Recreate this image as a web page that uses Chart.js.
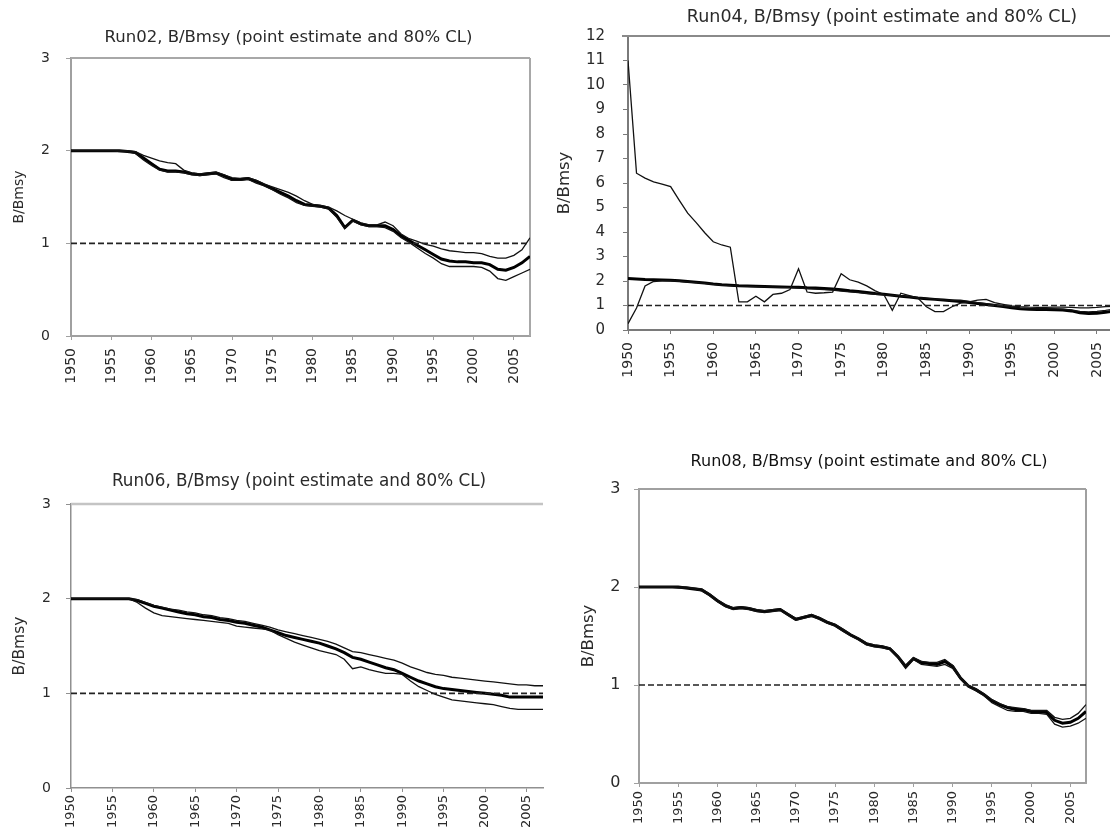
<!DOCTYPE html>
<html>
<head>
<meta charset="utf-8">
<title>B/Bmsy point estimates and 80% confidence limits</title>
<script src="https://cdn.jsdelivr.net/npm/chart.js@4.4.1/dist/chart.umd.min.js"></script>
<style>
  html, body { margin: 0; padding: 0; background: #fff; overflow: hidden; }
  #page { position: relative; width: 1110px; height: 836px; overflow: hidden; background: #fff; }
  #page canvas { position: absolute; }
</style>
</head>
<body>
<div id="page">
  <canvas id="run02"></canvas>
  <canvas id="run04"></canvas>
  <canvas id="run06"></canvas>
  <canvas id="run08"></canvas>
</div>
<script>
// ---- data -------------------------------------------------------------
const years = [
  1950, 1951, 1952, 1953, 1954, 1955, 1956, 1957, 1958, 1959,
  1960, 1961, 1962, 1963, 1964, 1965, 1966, 1967, 1968, 1969,
  1970, 1971, 1972, 1973, 1974, 1975, 1976, 1977, 1978, 1979,
  1980, 1981, 1982, 1983, 1984, 1985, 1986, 1987, 1988, 1989,
  1990, 1991, 1992, 1993, 1994, 1995, 1996, 1997, 1998, 1999,
  2000, 2001, 2002, 2003, 2004, 2005, 2006, 2007
];
const xTickYears = [1950, 1955, 1960, 1965, 1970, 1975, 1980, 1985, 1990, 1995, 2000, 2005];
const yTicksUnit = [0, 1, 2, 3];
const yTicksWide = [0, 1, 2, 3, 4, 5, 6, 7, 8, 9, 10, 11, 12];
const refLevel = 1;   // B = Bmsy

// Run02
const run02Mid = [
  2.00, 2.00, 2.00, 2.00, 2.00, 2.00, 2.00, 1.99, 1.98, 1.92,
  1.86, 1.80, 1.78, 1.78, 1.77, 1.75, 1.74, 1.75, 1.76, 1.73,
  1.69, 1.69, 1.70, 1.67, 1.63, 1.59, 1.55, 1.51, 1.46, 1.42,
  1.41, 1.40, 1.38, 1.30, 1.17, 1.25, 1.21, 1.19, 1.19, 1.19,
  1.15, 1.08, 1.03, 0.98, 0.93, 0.88, 0.83, 0.81, 0.80, 0.80,
  0.79, 0.79, 0.77, 0.72, 0.71, 0.74, 0.79, 0.86
];
const run02Upper = [
  2.00, 2.00, 2.00, 2.00, 2.00, 2.00, 2.00, 2.00, 1.99, 1.95,
  1.92, 1.89, 1.87, 1.86, 1.79, 1.76, 1.75, 1.76, 1.77, 1.74,
  1.71, 1.70, 1.71, 1.68, 1.64, 1.61, 1.58, 1.55, 1.51, 1.46,
  1.42, 1.41, 1.39, 1.35, 1.30, 1.26, 1.22, 1.20, 1.20, 1.23,
  1.19, 1.10, 1.05, 1.02, 0.99, 0.97, 0.94, 0.92, 0.91, 0.90,
  0.90, 0.89, 0.86, 0.84, 0.84, 0.87, 0.93, 1.06
];
const run02Lower = [
  2.00, 2.00, 2.00, 2.00, 2.00, 2.00, 1.99, 1.99, 1.97, 1.90,
  1.84, 1.79, 1.77, 1.77, 1.76, 1.74, 1.73, 1.74, 1.75, 1.71,
  1.68, 1.68, 1.69, 1.65, 1.62, 1.58, 1.53, 1.49, 1.44, 1.41,
  1.40, 1.39, 1.37, 1.28, 1.16, 1.24, 1.20, 1.18, 1.18, 1.17,
  1.13, 1.06, 1.01, 0.95, 0.89, 0.84, 0.78, 0.75, 0.75, 0.75,
  0.75, 0.74, 0.70, 0.62, 0.60, 0.64, 0.68, 0.72
];

// Run04
const run04Mid = [
  2.10, 2.08, 2.06, 2.05, 2.04, 2.03, 2.01, 1.98, 1.95, 1.92,
  1.88, 1.85, 1.83, 1.81, 1.80, 1.79, 1.78, 1.77, 1.76, 1.75,
  1.74, 1.72, 1.71, 1.69, 1.67, 1.64, 1.60, 1.57, 1.53, 1.49,
  1.46, 1.42, 1.38, 1.35, 1.31, 1.28, 1.25, 1.22, 1.19, 1.16,
  1.12, 1.08, 1.04, 1.00, 0.96, 0.91, 0.87, 0.85, 0.84, 0.84,
  0.83, 0.82, 0.78, 0.70, 0.67, 0.68, 0.72, 0.78
];
const run04Upper = [
  11.0, 6.40, 6.20, 6.05, 5.95, 5.85, 5.30, 4.77, 4.38, 3.97,
  3.60, 3.47, 3.38, 1.15, 1.15, 1.38, 1.15, 1.45, 1.50, 1.65,
  2.50, 1.55, 1.50, 1.52, 1.55, 2.30, 2.05, 1.95, 1.80, 1.60,
  1.45, 0.80, 1.50, 1.40, 1.30, 0.95, 0.75, 0.75, 0.95, 1.10,
  1.15, 1.22, 1.25, 1.12, 1.05, 0.98, 0.95, 0.93, 0.92, 0.92,
  0.93, 0.93, 0.92, 0.90, 0.90, 0.92, 0.95, 0.97
];
const run04Lower = [
  0.26, 0.90, 1.80, 1.98, 2.01, 2.01, 1.99, 1.96, 1.93, 1.90,
  1.86, 1.83, 1.81, 1.79, 1.78, 1.77, 1.76, 1.75, 1.74, 1.73,
  1.71, 1.69, 1.67, 1.65, 1.63, 1.59, 1.56, 1.53, 1.49, 1.46,
  1.43, 1.41, 1.39, 1.36, 1.32, 1.29, 1.26, 1.23, 1.21, 1.22,
  1.17, 1.12, 1.08, 1.03, 0.98, 0.93, 0.89, 0.87, 0.86, 0.86,
  0.86, 0.85, 0.82, 0.76, 0.74, 0.76, 0.80, 0.85
];

// Run06
const run06Mid = [
  2.00, 2.00, 2.00, 2.00, 2.00, 2.00, 2.00, 2.00, 1.98, 1.95,
  1.92, 1.90, 1.88, 1.86, 1.84, 1.83, 1.81, 1.80, 1.78, 1.77,
  1.75, 1.74, 1.72, 1.70, 1.67, 1.64, 1.61, 1.59, 1.57, 1.55,
  1.53, 1.50, 1.47, 1.43, 1.38, 1.36, 1.33, 1.30, 1.27, 1.25,
  1.21, 1.17, 1.13, 1.10, 1.07, 1.05, 1.04, 1.03, 1.02, 1.01,
  1.00, 0.99, 0.98, 0.96, 0.96, 0.96, 0.96, 0.96
];
const run06Upper = [
  2.00, 2.00, 2.00, 2.00, 2.00, 2.00, 2.00, 2.00, 1.99, 1.96,
  1.93, 1.91, 1.89, 1.88, 1.86, 1.85, 1.83, 1.82, 1.80, 1.79,
  1.77, 1.76, 1.74, 1.72, 1.70, 1.67, 1.65, 1.63, 1.61, 1.59,
  1.57, 1.55, 1.52, 1.48, 1.44, 1.43, 1.41, 1.39, 1.37, 1.35,
  1.32, 1.28, 1.25, 1.22, 1.20, 1.19, 1.17, 1.16, 1.15, 1.14,
  1.13, 1.12, 1.11, 1.10, 1.09, 1.09, 1.08, 1.08
];
const run06Lower = [
  2.00, 2.00, 2.00, 2.00, 2.00, 2.00, 2.00, 2.00, 1.96, 1.90,
  1.85, 1.82, 1.81, 1.80, 1.79, 1.78, 1.77, 1.76, 1.75, 1.74,
  1.71, 1.70, 1.69, 1.68, 1.67, 1.62, 1.58, 1.54, 1.51, 1.48,
  1.45, 1.43, 1.41, 1.36, 1.26, 1.28, 1.25, 1.23, 1.21, 1.21,
  1.20, 1.13, 1.07, 1.03, 0.99, 0.96, 0.93, 0.92, 0.91, 0.90,
  0.89, 0.88, 0.86, 0.84, 0.83, 0.83, 0.83, 0.83
];

// Run08
const run08Mid = [
  2.00, 2.00, 2.00, 2.00, 2.00, 2.00, 1.99, 1.98, 1.97, 1.92,
  1.86, 1.81, 1.78, 1.79, 1.78, 1.76, 1.75, 1.76, 1.77, 1.72,
  1.67, 1.69, 1.71, 1.68, 1.64, 1.61, 1.56, 1.51, 1.47, 1.42,
  1.40, 1.39, 1.37, 1.29, 1.19, 1.27, 1.23, 1.22, 1.21, 1.24,
  1.19, 1.07, 0.99, 0.95, 0.90, 0.84, 0.80, 0.77, 0.75, 0.75,
  0.73, 0.73, 0.72, 0.64, 0.61, 0.62, 0.66, 0.73
];
const run08Upper = [
  2.00, 2.00, 2.00, 2.00, 2.00, 2.00, 2.00, 1.99, 1.98, 1.93,
  1.87, 1.82, 1.79, 1.80, 1.79, 1.77, 1.76, 1.77, 1.78, 1.73,
  1.68, 1.70, 1.72, 1.69, 1.65, 1.62, 1.57, 1.52, 1.48, 1.43,
  1.41, 1.40, 1.38, 1.30, 1.20, 1.28, 1.24, 1.23, 1.23, 1.26,
  1.20, 1.08, 1.00, 0.96, 0.91, 0.85, 0.81, 0.78, 0.77, 0.76,
  0.74, 0.74, 0.74, 0.67, 0.65, 0.66, 0.71, 0.80
];
const run08Lower = [
  2.00, 2.00, 2.00, 2.00, 2.00, 1.99, 1.99, 1.98, 1.96, 1.91,
  1.85, 1.80, 1.77, 1.78, 1.77, 1.75, 1.74, 1.75, 1.76, 1.71,
  1.66, 1.68, 1.70, 1.67, 1.63, 1.60, 1.55, 1.50, 1.46, 1.41,
  1.39, 1.38, 1.36, 1.28, 1.17, 1.26, 1.21, 1.20, 1.19, 1.21,
  1.17, 1.06, 0.98, 0.94, 0.89, 0.82, 0.78, 0.74, 0.73, 0.73,
  0.71, 0.71, 0.70, 0.60, 0.57, 0.58, 0.61, 0.66
];

// ---- drawing ----------------------------------------------------------
const FONT = '"DejaVu Sans", "Liberation Sans", sans-serif';
Chart.defaults.font.family = FONT;
Chart.defaults.color = '#2a2a2a';

// Panel heading drawn above the plot area
const panelTitle = {
  id: 'panelTitle',
  afterDraw(chart, args, opts) {
    const { ctx, chartArea } = chart;
    ctx.save();
    ctx.font = `${opts.size}px ${FONT}`;
    ctx.fillStyle = opts.color || '#2a2a2a';
    ctx.textAlign = 'center';
    ctx.textBaseline = 'middle';
    ctx.fillText(opts.text, (chartArea.left + chartArea.right) / 2 + opts.dx, chartArea.top + opts.dy);
    ctx.restore();
  }
};

// Top / right edges of the plot area
const plotFrame = {
  id: 'plotFrame',
  beforeDatasetsDraw(chart, args, opts) {
    const { ctx, chartArea } = chart;
    ctx.save();
    ctx.strokeStyle = opts.color;
    ctx.lineWidth = opts.width;
    ctx.beginPath();
    if (opts.top) {
      ctx.moveTo(chartArea.left - (opts.topOverhang || 0), chartArea.top);
      ctx.lineTo(chartArea.right, chartArea.top);
    }
    if (opts.right) {
      ctx.moveTo(chartArea.right, chartArea.top);
      ctx.lineTo(chartArea.right, chartArea.bottom);
    }
    ctx.stroke();
    ctx.restore();
  }
};

const toPoints = vals => years.map((yr, i) => ({ x: yr, y: vals[i] }));

function makePanel(id, p) {
  const canvas = document.getElementById(id);
  canvas.width = p.box.w;
  canvas.height = p.box.h;
  canvas.style.left = p.box.x + 'px';
  canvas.style.top = p.box.y + 'px';
  canvas.style.width = p.box.w + 'px';
  canvas.style.height = p.box.h + 'px';

  const thin = { borderColor: '#111', borderWidth: 1.3, pointRadius: 0, tension: 0, fill: false };
  new Chart(canvas, {
    type: 'line',
    data: {
      datasets: [
        { label: 'Bmsy', data: [{ x: years[0], y: refLevel }, { x: years[years.length - 1], y: refLevel }],
          borderColor: '#222', borderWidth: 1.7, borderDash: [6, 3], pointRadius: 0, fill: false },
        Object.assign({ label: 'upper 80% CL', data: toPoints(p.upper) }, thin),
        Object.assign({ label: 'lower 80% CL', data: toPoints(p.lower) }, thin),
        { label: 'point estimate', data: toPoints(p.mid), borderColor: '#000', borderWidth: 3,
          pointRadius: 0, tension: 0, fill: false }
      ]
    },
    options: {
      responsive: false,
      animation: false,
      events: [],
      layout: { padding: p.pad },
      plugins: {
        legend: { display: false },
        tooltip: { enabled: false },
        title: { display: false },
        panelTitle: p.title,
        plotFrame: p.frame
      },
      scales: {
        x: {
          type: 'linear',
          min: years[0],
          max: years[years.length - 1],
          afterBuildTicks: s => { s.ticks = xTickYears.map(v => ({ value: v })); },
          afterFit: s => { s.height = p.xh; },
          ticks: {
            autoSkip: false, minRotation: 90, maxRotation: 90,
            padding: p.xPad, color: '#2a2a2a',
            font: { size: p.xTickSize },
            callback: v => String(v)
          },
          grid: { display: true, drawOnChartArea: false, drawTicks: true, tickLength: 4,
                  color: p.axisColor, lineWidth: 1 },
          border: { display: true, color: p.axisColor, width: p.axisWidth }
        },
        y: {
          type: 'linear',
          min: p.yTicks[0],
          max: p.yTicks[p.yTicks.length - 1],
          afterBuildTicks: s => { s.ticks = p.yTicks.map(v => ({ value: v })); },
          afterFit: s => { s.width = p.yw; },
          ticks: { padding: p.yPad, color: '#2a2a2a', font: { size: p.yTickSize },
                   callback: v => String(v) },
          grid: { display: true, drawOnChartArea: false, drawTicks: true, tickLength: 5,
                  color: p.axisColor, lineWidth: 1 },
          border: { display: true, color: p.axisColor, width: p.axisWidth },
          title: { display: true, text: 'B/Bmsy', color: '#2a2a2a',
                   font: { size: p.yTitleSize, lineHeight: 1 }, padding: 0 }
        }
      }
    },
    plugins: [panelTitle, plotFrame]
  });
}

makePanel('run02', {
  box: { x: 12, y: 0, w: 528, h: 420 },
  pad: { left: 0, right: 10, top: 58, bottom: 24 },
  yw: 59, xh: 60, xPad: 8, xTickSize: 14, yPad: 16, yTickSize: 14, yTitleSize: 14,
  axisColor: '#a0a0a0', axisWidth: 2,
  yTicks: yTicksUnit,
  mid: run02Mid, upper: run02Upper, lower: run02Lower,
  title: { text: 'Run02, B/Bmsy (point estimate and 80% CL)', size: 16.5, dx: -12, dy: -20 },
  frame: { top: true, right: true, color: '#a8a8a8', width: 2 }
});

makePanel('run04', {
  box: { x: 556, y: 0, w: 568, h: 420 },
  pad: { left: 0, right: 10, top: 36, bottom: 30 },
  yw: 72, xh: 60, xPad: 8, xTickSize: 14, yPad: 18, yTickSize: 15, yTitleSize: 16.5,
  axisColor: '#7a7a7a', axisWidth: 2,
  yTicks: yTicksWide,
  mid: run04Mid, upper: run04Upper, lower: run04Lower,
  title: { text: 'Run04, B/Bmsy (point estimate and 80% CL)', size: 17.5, dx: 11, dy: -19 },
  frame: { top: true, right: false, color: '#8a8a8a', width: 2, topOverhang: 6 }
});

makePanel('run06', {
  box: { x: 12, y: 430, w: 541, h: 406 },
  pad: { left: 0, right: 10, top: 74, bottom: 8 },
  yw: 59, xh: 40, xPad: 3, xTickSize: 13, yPad: 15, yTickSize: 14, yTitleSize: 15.5,
  axisColor: '#909090', axisWidth: 1.5,
  yTicks: yTicksUnit,
  mid: run06Mid, upper: run06Upper, lower: run06Lower,
  title: { text: 'Run06, B/Bmsy (point estimate and 80% CL)', size: 16.8, dx: -8, dy: -22 },
  frame: { top: true, right: false, color: '#c4c4c4', width: 2.5 }
});

makePanel('run08', {
  box: { x: 580, y: 430, w: 516, h: 406 },
  pad: { left: 0, right: 10, top: 59, bottom: 8 },
  yw: 59, xh: 45, xPad: 4, xTickSize: 13, yPad: 13.5, yTickSize: 16, yTitleSize: 16.5,
  axisColor: '#a0a0a0', axisWidth: 2,
  yTicks: yTicksUnit,
  mid: run08Mid, upper: run08Upper, lower: run08Lower,
  title: { text: 'Run08, B/Bmsy (point estimate and 80% CL)', size: 16, dx: 6.5, dy: -27, color: '#111' },
  frame: { top: true, right: true, color: '#a0a0a0', width: 2 }
});
</script>
</body>
</html>
